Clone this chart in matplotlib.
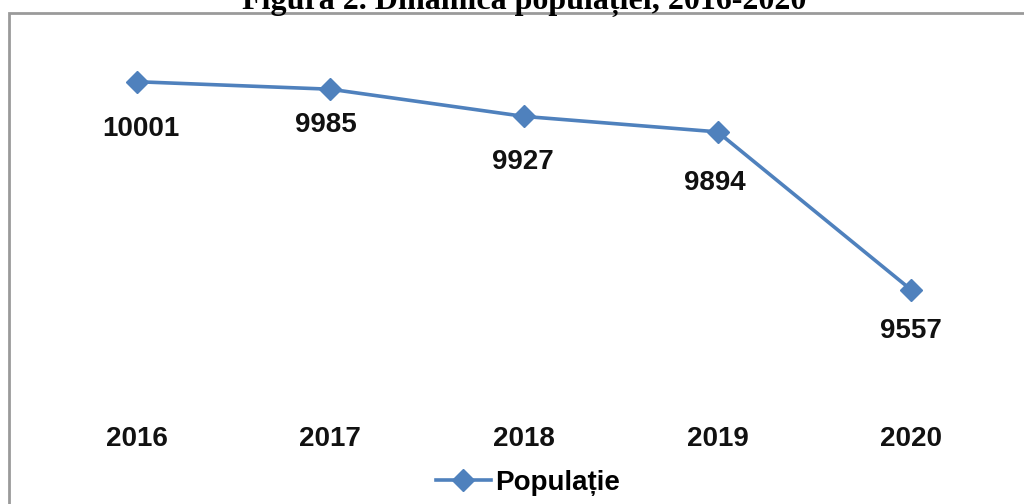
import matplotlib
matplotlib.use("Agg")
import matplotlib.pyplot as plt
from matplotlib.patches import Rectangle

# ------------------- ДАННЫЕ -------------------
years = ["2016", "2017", "2018", "2019", "2020"]
population = [10001, 9985, 9927, 9894, 9557]
series_name = "Populație"
title = "Figura 2. Dinamica populației, 2016-2020"

# сдвиги подписей значений (в пикселях: вправо, вниз)
label_shift = [(4, 47), (-5, 36), (-1, 46), (-3, 51), (0, 41)]

BLUE = "#4F81BD"
W, H = 1024, 504
PX = 72 / 100  # пикселей -> пунктов при dpi=100

fig = plt.figure(figsize=(W / 100, H / 100), dpi=100)
fig.patch.set_facecolor("white")

# рамка вокруг диаграммы (обрезана справа и снизу)
frame = Rectangle((9 / W, -0.1), 1.2, 1.1 - 13 / H, transform=fig.transFigure,
                  fill=False, edgecolor="#9a9a9a", linewidth=2.0)
fig.add_artist(frame)

# заголовок, верх срезан краем картинки
fig.text(524 / W, 1 - 9 / H, title, ha="center", va="baseline",
         fontsize=23, fontweight="bold", family="Liberation Serif")

ax = fig.add_axes([40 / W, (H - 415) / H, 968 / W, 375 / H])
x = list(range(len(years)))
line, = ax.plot(x, population, color=BLUE, linewidth=2.6, marker="D",
                markersize=11, markeredgecolor=BLUE, label=series_name)

for xi, v, (dx, dy) in zip(x, population, label_shift):
    ax.annotate(str(v), (xi, v), xytext=(dx * PX, -dy * PX), textcoords="offset points",
                ha="center", va="center", fontsize=20, fontweight="bold",
                family="Liberation Sans", color="#111111")

ax.set_xlim(-0.5, len(years) - 0.5)
ax.set_ylim(9290, 10090)
ax.set_xticks(x)
ax.set_xticklabels(years, fontsize=20, fontweight="bold", family="Liberation Sans",
                   color="#111111")
ax.tick_params(axis="x", length=0, pad=8)
ax.set_yticks([])
for s in ax.spines.values():
    s.set_visible(False)
ax.patch.set_alpha(0)

leg = fig.legend(handles=[line], loc="center", bbox_to_anchor=(528 / W, 1 - 483 / H),
                 frameon=False, handlelength=2.0, handletextpad=0.15,
                 prop={"family": "Liberation Sans", "weight": "bold", "size": 20})

fig.savefig("out.png", dpi=100)
